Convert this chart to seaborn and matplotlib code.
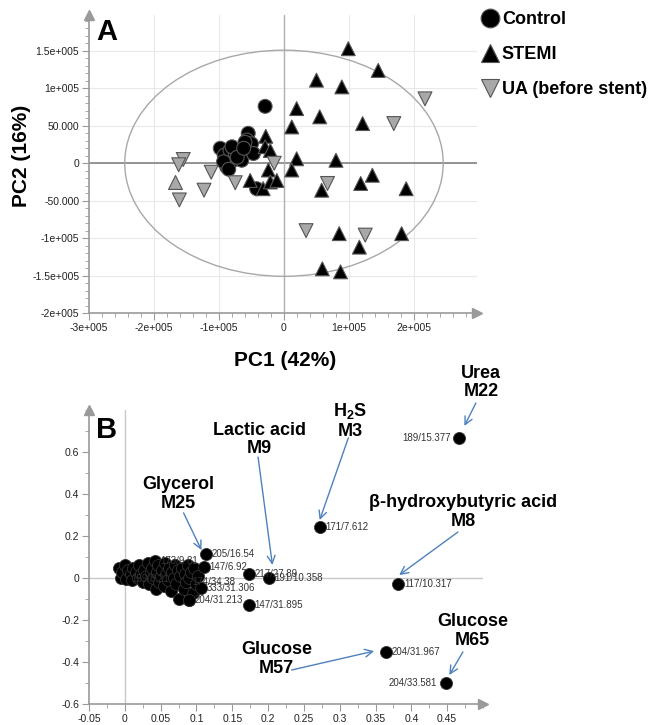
import numpy as np
import pandas as pd
import seaborn as sns
import matplotlib.pyplot as plt
from matplotlib.patches import Ellipse
from matplotlib.ticker import MultipleLocator

# ---- panel A: PCA scores ----
ctrl_x = [-98000, -92000, -83000, -78000, -88000, -75000, -68000, -65000, -55000, -57000,
          -50000, -47000, -42000, -29000, -93000, -80000, -60000, -85000, -72000, -62000]
ctrl_y = [20000, 10700, 17400, 4000, -5000, 13000, 15000, 4000, 40000, 31000,
          26000, 13000, -34000, 76000, 2000, 22000, 28000, -8000, 8000, 20000]
stemi_x = [50000, 19500, 55000, 12000, 19500, 12000, -28000, -29000, -21000, -24000,
           -52000, -32000, -21000, -11000, 58000, 99000, 145000, 89000, 121000, 80000,
           136000, 118000, 188000, 85000, 181000, 116000, 59000, 87000]
stemi_y = [111000, 73000, 62000, 48500, 6000, -9000, 36000, 22000, 17000, -9000,
           -23000, -34000, -25000, -23000, -36000, 153000, 124000, 102000, 53000, 4000,
           -16000, -27000, -34000, -94000, -94000, -112000, -141000, -145000]
ua_x = [-155000, -162000, -161000, -112000, -123000, -75000, -15000, 34000, 217000, 169000, 67000, 125000]
ua_y = [5000, -2000, -49000, -12000, -36000, -26000, 0, -90000, 86000, 53000, -27000, -96000]
other_x = [-168000]
other_y = [-25000]
groups = ['Control', 'STEMI', 'UA (before stent)']

a_xticks = [-300000, -200000, -100000, 0, 100000, 200000]
a_xlabels = ['-3e+005', '-2e+005', '-1e+005', '0', '1e+005', '2e+005']
a_yticks = [-200000, -150000, -100000, -50000, 0, 50000, 100000, 150000]
a_ylabels = ['-2e+005', '-1.5e+005', '-1e+005', '-50.000', '0', '50.000', '1e+005', '1.5e+005']

# ---- panel B: loadings ----
# dense cluster near the origin
clu_x = [-0.008, -0.006, -0.004, 0.0, 0.002, 0.005, 0.008, 0.01, 0.012, 0.015,
         0.018, 0.02, 0.022, 0.025, 0.027, 0.03, 0.032, 0.034, 0.036, 0.038,
         0.04, 0.042, 0.043, 0.045, 0.047, 0.048, 0.05, 0.052, 0.054, 0.056,
         0.058, 0.06, 0.062, 0.064, 0.066, 0.068, 0.07, 0.072, 0.074, 0.075,
         0.077, 0.08, 0.082, 0.084, 0.086, 0.088, 0.09, 0.09, 0.093, 0.095,
         0.097, 0.1, 0.102]
clu_y = [0.05, 0.0, 0.03, 0.06, -0.005, 0.04, 0.02, -0.01, 0.05, 0.03,
         0.0, 0.06, 0.02, -0.02, 0.04, 0.01, 0.07, -0.03, 0.03, 0.05,
         0.0, 0.08, -0.05, 0.03, 0.06, -0.02, 0.01, 0.04, -0.04, 0.07,
         0.02, -0.01, 0.05, -0.06, 0.03, 0.0, 0.06, -0.03, 0.04, -0.1,
         0.01, 0.05, -0.05, 0.02, -0.02, 0.06, -0.105, 0.0, 0.03, -0.07,
         0.05, -0.03, 0.01]
clu_lbl_idx = [4, 21, 44]
clu_lbl = ['159/8.21', '173/9.81', '174/34.38']
# labelled loadings
pts_x = [0.113, 0.110, 0.107, 0.090, 0.1736, 0.2015, 0.1736,
         0.272, 0.467, 0.382, 0.364, 0.448]
pts_y = [0.113, 0.054, -0.049, -0.105, 0.018, -0.002, -0.129,
         0.241, 0.668, -0.030, -0.351, -0.501]
pts_lbl = ['205/16.54', '147/6.92', '333/31.306', '204/31.213', '217/27.89', '191/10.358', '147/31.895',
           '171/7.612', '189/15.377', '117/10.317', '204/31.967', '204/33.581']
left_lbl = ['189/15.377', '204/33.581']

b_xticks = [-0.05, 0, 0.05, 0.1, 0.15, 0.2, 0.25, 0.3, 0.35, 0.4, 0.45]
b_xlabels = ['-0.05', '0', '0.05', '0.1', '0.15', '0.2', '0.25', '0.3', '0.35', '0.4', '0.45']
b_yticks = [-0.6, -0.4, -0.2, 0, 0.2, 0.4, 0.6]
b_ylabels = ['-0.6', '-0.4', '-0.2', '0', '0.2', '0.4', '0.6']

# metabolite name, text position, arrow start, arrow end
names = ['Glycerol\nM25', 'Lactic acid\nM9', 'H$_2$S\nM3', 'Urea\nM22',
         'β-hydroxybutyric acid\nM8', 'Glucose\nM65', 'Glucose\nM57']
name_pos = [(0.075, 0.40), (0.188, 0.66), (0.315, 0.75), (0.497, 0.93),
            (0.472, 0.315), (0.485, -0.253), (0.212, -0.386)]
arrow_from = [(0.082, 0.31), (0.186, 0.576), (0.312, 0.667), (0.49, 0.833),
              (0.465, 0.219), (0.472, -0.352), (0.233, -0.438)]
arrow_to = [(0.107, 0.133), (0.206, 0.062), (0.272, 0.276), (0.474, 0.724),
            (0.383, 0.014), (0.453, -0.462), (0.348, -0.348)]

sns.set_style('white')
plt.rcParams['font.family'] = ['Liberation Sans', 'DejaVu Sans']
plt.rcParams['text.color'] = 'black'
plt.rcParams['mathtext.fontset'] = 'custom'
plt.rcParams['mathtext.bf'] = 'Liberation Sans:bold'
plt.rcParams['mathtext.rm'] = 'Liberation Sans:bold'
narrow = ['Liberation Sans Narrow', 'Liberation Sans', 'DejaVu Sans']
axis_gray = '#9a9a9a'

fig = plt.figure(figsize=(6.54, 7.25), dpi=100)
ax1 = fig.add_axes([89 / 654, 1 - 313 / 725, 388 / 654, 298 / 725])
ax2 = fig.add_axes([89 / 654, 1 - 704 / 725, 394 / 654, 294 / 725])


def style_axes(ax):
    for s in ['top', 'right']:
        ax.spines[s].set_visible(False)
    for s in ['left', 'bottom']:
        ax.spines[s].set_color(axis_gray)
        ax.spines[s].set_linewidth(1.2)
    ax.tick_params(which='major', length=5, width=0.8, color=axis_gray, labelcolor='#222222',
                   labelsize=7.5, pad=2, bottom=True, left=True)
    ax.tick_params(which='minor', length=3, width=0.6, color=axis_gray, bottom=True, left=True)
    ax.plot(0, 1.0, marker='^', color=axis_gray, ms=7, transform=ax.transAxes, clip_on=False)
    ax.plot(1.0, 0, marker='>', color=axis_gray, ms=7, transform=ax.transAxes, clip_on=False)
    for lab in ax.get_xticklabels() + ax.get_yticklabels():
        lab.set_family(narrow)


# panel A
df_a = pd.DataFrame({
    'PC1': ctrl_x + stemi_x + ua_x,
    'PC2': ctrl_y + stemi_y + ua_y,
    'group': [groups[0]] * len(ctrl_x) + [groups[1]] * len(stemi_x) + [groups[2]] * len(ua_x),
})
ax1.set_xlim(-300000, 297000)
ax1.set_ylim(-200000, 198000)
for t in a_xticks[1:]:
    ax1.axvline(t, color='#e8e8e8', lw=0.8, zorder=0)
for t in a_yticks[1:]:
    ax1.axhline(t, color='#e8e8e8', lw=0.8, zorder=0)
ax1.axhline(0, color='#8c8c8c', lw=1.3, zorder=1)
ax1.axvline(0, color='#b0b0b0', lw=1.0, zorder=1)
ax1.add_patch(Ellipse((0, 0), 490000, 302000, fill=False, edgecolor='#a8a8a8', lw=1.0, zorder=1))

sns.scatterplot(data=df_a, x='PC1', y='PC2', hue='group', style='group', ax=ax1,
                hue_order=groups, style_order=groups,
                palette={groups[0]: 'black', groups[1]: 'black', groups[2]: '#a8a8a8'},
                markers={groups[0]: 'o', groups[1]: '^', groups[2]: 'v'},
                s=100, edgecolor='#555555', linewidth=0.8, zorder=3)
sns.scatterplot(x=other_x, y=other_y, marker='^', color='#a8a8a8', s=100,
                edgecolor='#555555', linewidth=0.8, ax=ax1, legend=False, zorder=3)
handles, labels = ax1.get_legend_handles_labels()
ax1.get_legend().remove()
fig.legend(handles, labels, loc='upper left', bbox_to_anchor=(482 / 654, 1 - 11 / 725),
           frameon=False, borderpad=0, borderaxespad=0, handlelength=0.9, handletextpad=0.2,
           labelspacing=1.0, markerscale=1.35, prop={'weight': 'bold', 'size': 13})
ax1.set_xticks(a_xticks, a_xlabels)
ax1.set_yticks(a_yticks, a_ylabels)
ax1.xaxis.set_minor_locator(MultipleLocator(20000))
ax1.yaxis.set_minor_locator(MultipleLocator(10000))
ax1.set_xlabel('')
ax1.set_ylabel('')
style_axes(ax1)

fig.text(96 / 654, 1 - 40 / 725, 'A', fontsize=21, fontweight='bold', va='baseline')
fig.text(22 / 654, 1 - 156 / 725, 'PC2 (16%)', fontsize=15, fontweight='bold',
         rotation=90, ha='center', va='center')
fig.text(285 / 654, 1 - 360 / 725, 'PC1 (42%)', fontsize=15, fontweight='bold',
         ha='center', va='center')

# panel B
df_b = pd.DataFrame({'p1': clu_x + pts_x, 'p2': clu_y + pts_y})
ax2.set_xlim(-0.05, 0.5)
ax2.set_ylim(-0.6, 0.8)
ax2.axhline(0, color='#c8c8c8', lw=1.0, zorder=0)
ax2.axvline(0, color='#c8c8c8', lw=1.0, zorder=0)
sns.scatterplot(data=df_b, x='p1', y='p2', ax=ax2, color='black', s=75,
                edgecolor='#333333', linewidth=0.6, legend=False, zorder=3)
lab_xy = [(clu_x[i], clu_y[i]) for i in clu_lbl_idx] + list(zip(pts_x, pts_y))
for lbl, (px, py) in zip(clu_lbl + pts_lbl, lab_xy):
    if lbl in left_lbl:
        ax2.annotate(lbl, (px, py), xytext=(-6, 0), textcoords='offset points',
                     ha='right', va='center', fontsize=7, color='#333333', family=narrow)
    else:
        ax2.annotate(lbl, (px, py), xytext=(4, 0), textcoords='offset points',
                     ha='left', va='center', fontsize=7, color='#333333', family=narrow)
for name, pos, a0, a1 in zip(names, name_pos, arrow_from, arrow_to):
    ax2.text(pos[0], pos[1], name, ha='center', va='center', fontsize=13,
             fontweight='bold', linespacing=1.1, zorder=5, clip_on=False)
    ax2.annotate('', xy=a1, xytext=a0, annotation_clip=False,
                 arrowprops=dict(arrowstyle='->', color='#4f81bd', lw=1.0,
                                 shrinkA=0, shrinkB=0, mutation_scale=14))
ax2.set_xticks(b_xticks, b_xlabels)
ax2.set_yticks(b_yticks, b_ylabels)
ax2.xaxis.set_minor_locator(MultipleLocator(0.025))
ax2.yaxis.set_minor_locator(MultipleLocator(0.1))
ax2.set_xlabel('')
ax2.set_ylabel('')
style_axes(ax2)

fig.text(96 / 654, 1 - 438 / 725, 'B', fontsize=21, fontweight='bold', va='baseline')

fig.savefig('out.png', dpi=100)
